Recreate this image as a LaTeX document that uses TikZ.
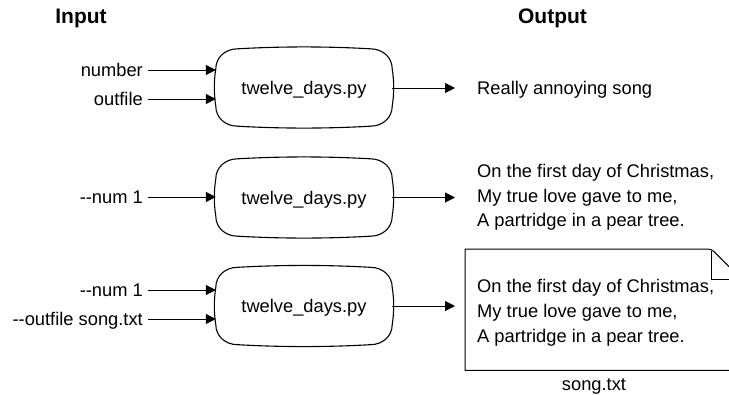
\documentclass[tikz,border=0pt]{standalone}
\usepackage{fontspec}
\setmainfont{Liberation Sans}
\usetikzlibrary{arrows.meta,calc}
\newcommand\softbox[1]{%
  \draw[boxline]
    ([yshift=-20pt]#1.north west)
    .. controls ([xshift=-2pt,yshift=-33pt]#1.north west) and ([xshift=-2pt,yshift=33pt]#1.south west) .. ([yshift=20pt]#1.south west)
    .. controls ([yshift=9pt]#1.south west) and ([xshift=9pt]#1.south west) .. ([xshift=22pt]#1.south west)
    .. controls ([xshift=66pt,yshift=-2.5pt]#1.south west) and ([xshift=-66pt,yshift=-2.5pt]#1.south east) .. ([xshift=-22pt]#1.south east)
    .. controls ([xshift=-9pt]#1.south east) and ([yshift=9pt]#1.south east) .. ([yshift=20pt]#1.south east)
    .. controls ([xshift=2pt,yshift=33pt]#1.south east) and ([xshift=2pt,yshift=-33pt]#1.north east) .. ([yshift=-20pt]#1.north east)
    .. controls ([yshift=-9pt]#1.north east) and ([xshift=-9pt]#1.north east) .. ([xshift=-22pt]#1.north east)
    .. controls ([xshift=-66pt,yshift=2.5pt]#1.north east) and ([xshift=66pt,yshift=2.5pt]#1.north west) .. ([xshift=22pt]#1.north west)
    .. controls ([xshift=9pt]#1.north west) and ([yshift=-9pt]#1.north west) .. cycle;}
\begin{document}
\begin{tikzpicture}[x=1pt,y=-1pt,
  every node/.style={font=\fontsize{18.3}{24.7}\selectfont},
  prog/.style={minimum width=176pt, minimum height=77pt, inner sep=0pt, text height=13pt, text depth=0pt},
  boxline/.style={line width=1.1pt},
  inlbl/.style={anchor=east, inner xsep=5pt, inner ysep=0pt, text height=13pt, text depth=0pt},
  outtxt/.style={anchor=base west, inner sep=0pt, align=left},
  conn/.style={line width=1pt, -{Triangle[length=10pt,width=10pt]}},
  titletxt/.style={font=\fontsize{21}{25}\bfseries\selectfont, text height=15pt, text depth=0pt, inner sep=0pt},
  docline/.style={line width=1pt}
]
\useasboundingbox (0,0) rectangle (729,394);
% titles
\node[titletxt] (tin) at (81,16.3) {Input};
\node[titletxt] (tout) at (552.5,16.3) {Output};
% programs
\node[prog] (p1) at (304,87.5) {twelve\_days.py};
\node[prog] (p2) at (304,197.5) {twelve\_days.py};
\node[prog] (p3) at (304,306) {twelve\_days.py};
\softbox{p1}
\softbox{p2}
\softbox{p3}
% inputs
\node[inlbl] (a1) at (148,70) {number};
\node[inlbl] (a2) at (148,99) {outfile};
\node[inlbl] (b1) at (148,197) {-{}-num 1};
\node[inlbl] (c1) at (148,290) {-{}-num 1};
\node[inlbl] (c2) at (148,319) {-{}-outfile song.txt};
\draw[conn] (a1.east) -- (a1.east -| p1.west);
\draw[conn] (a2.east) -- (a2.east -| p1.west);
\draw[conn] (b1.east) -- (b1.east -| p2.west);
\draw[conn] (c1.east) -- (c1.east -| p3.west);
\draw[conn] (c2.east) -- (c2.east -| p3.west);
% outputs
\node[inlbl, anchor=west, inner xsep=0pt] (o1) at (477,88) {Really annoying song};
\draw[conn] (o1.west -| p1.east) -- ([xshift=-22pt]o1.west);
\node[outtxt] (o2) at (477,226.7) {On the first day of Christmas,\\My true love gave to me,\\A partridge in a pear tree.};
\draw[conn] (p2.east) -- ([xshift=-22pt]p2.east -| o2.west);
% document
\node[minimum width=276pt, minimum height=121pt, inner sep=0pt, anchor=north west] (doc) at (465,249) {};
\begin{scope}
\clip (0,0) rectangle (729,394);
\draw[docline] ([xshift=-38pt]doc.north east) -- (doc.north west) -- (doc.south west) -- (doc.south east) -- ([yshift=-30pt]doc.north east) -- ([xshift=-25pt,yshift=-5pt]doc.north east) .. controls ([xshift=-30pt]doc.north east) .. ([xshift=-38pt]doc.north east);
\draw[docline] ([xshift=-30pt,yshift=-2pt]doc.north east) -- ([xshift=-30pt,yshift=-30pt]doc.north east) -- ([yshift=-30pt]doc.north east);
\end{scope}
\node[outtxt] (o3) at (477,342) {On the first day of Christmas,\\My true love gave to me,\\A partridge in a pear tree.};
\draw[conn] (p3.east) -- ([xshift=-10pt]p3.east -| doc.west);
\node[anchor=base, inner sep=0pt] (fname) at (594,390) {song.txt};
\end{tikzpicture}
\end{document}
